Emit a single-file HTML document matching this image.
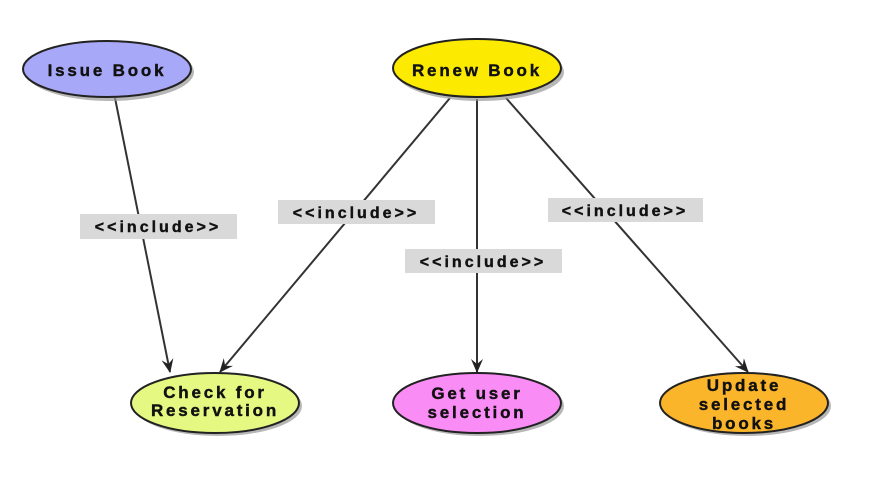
<!DOCTYPE html>
<html><head><meta charset="utf-8"><style>
html,body{margin:0;padding:0;background:#fff;}
svg text{font-family:"Liberation Sans",sans-serif;font-weight:bold;fill:#111;stroke:#111;stroke-width:0.4;}
</style></head><body>
<svg width="881" height="476" viewBox="0 0 881 476" xmlns="http://www.w3.org/2000/svg">
<defs>
<marker id="a" markerWidth="14" markerHeight="14" refX="13" refY="7" orient="auto" markerUnits="userSpaceOnUse">
<path d="M0,1 L14,7 L0,13 L5,7 Z" fill="#222"/>
</marker>
</defs>
<g stroke="#333" stroke-width="2" fill="none">
<line x1="115" y1="98" x2="170" y2="372" marker-end="url(#a)"/>
<line x1="450" y1="98" x2="220" y2="372" marker-end="url(#a)"/>
<line x1="477" y1="99" x2="477" y2="372" marker-end="url(#a)"/>
<line x1="506" y1="98" x2="748" y2="372" marker-end="url(#a)"/>
</g>
<g fill="#d9d9d9">
<rect x="80" y="214" width="157" height="25"/>
<rect x="278" y="200" width="157" height="24"/>
<rect x="405" y="249" width="157" height="24"/>
<rect x="548" y="198" width="155" height="24"/>
</g>
<g font-size="16" letter-spacing="3" text-anchor="middle">
<text x="158" y="232">&lt;&lt;include&gt;&gt;</text>
<text x="356" y="218">&lt;&lt;include&gt;&gt;</text>
<text x="483" y="267">&lt;&lt;include&gt;&gt;</text>
<text x="625" y="216">&lt;&lt;include&gt;&gt;</text>
</g>
<g fill="#999" opacity="0.7">
<ellipse cx="110" cy="72" rx="84" ry="29"/>
<ellipse cx="480" cy="72" rx="84" ry="29"/>
<ellipse cx="218" cy="406" rx="84" ry="30"/>
<ellipse cx="480" cy="406" rx="84" ry="30"/>
<ellipse cx="747" cy="406" rx="84" ry="30"/>
</g>
<g stroke="#222" stroke-width="2">
<ellipse cx="107" cy="69" rx="84" ry="28" fill="#a8a8f8"/>
<ellipse cx="477" cy="68" rx="84" ry="29" fill="#fcea00"/>
<ellipse cx="215" cy="403" rx="84" ry="30" fill="#e4f882"/>
<ellipse cx="477" cy="403" rx="84" ry="30" fill="#f98cf5"/>
<ellipse cx="744" cy="403" rx="84" ry="30" fill="#fbb52b"/>
</g>
<g font-size="17" letter-spacing="2.8" text-anchor="middle">
<text x="107" y="76">Issue Book</text>
<text x="477" y="76">Renew Book</text>
<text x="215" y="398">Check for</text>
<text x="215" y="416">Reservation</text>
<text x="477" y="399">Get user</text>
<text x="477" y="418">selection</text>
<text x="744" y="391">Update</text>
<text x="744" y="410">selected</text>
<text x="744" y="429">books</text>
</g>
</svg>
</body></html>
